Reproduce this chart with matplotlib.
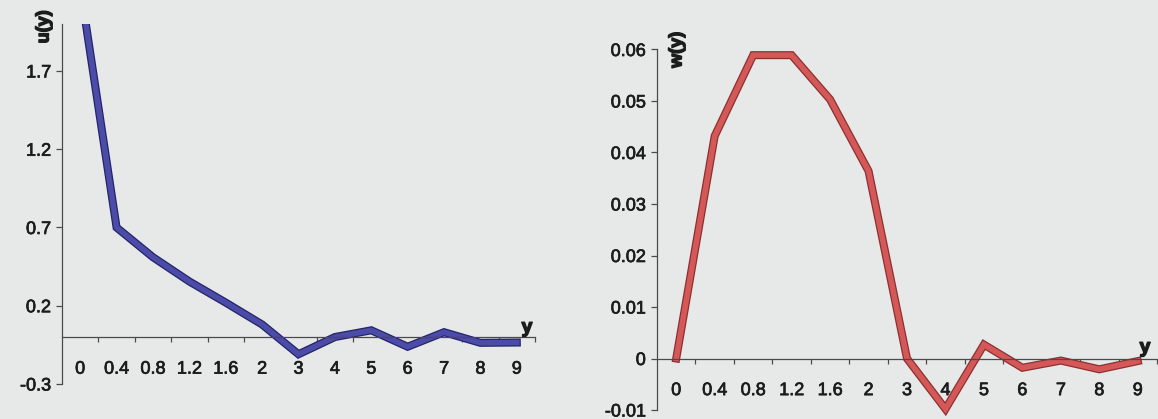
import numpy as np
import matplotlib
matplotlib.use("Agg")
import matplotlib.pyplot as plt
import matplotlib.patheffects as pe

# categories along the y axis (category axis, as in the spreadsheet chart)
categories = ['0', '0.4', '0.8', '1.2', '1.6', '2', '3', '4', '5', '6', '7', '8', '9']

# u(y) values (first point runs off the top)
u_values = [2.24, 0.70, 0.51, 0.355, 0.22, 0.08, -0.11, 0.0, 0.043, -0.062, 0.031, -0.037, -0.035]
u_ticks = [-0.3, 0.2, 0.7, 1.2, 1.7]
u_ticklabels = ['-0.3', '0.2', '0.7', '1.2', '1.7']

# w(y) values
w_values = [0.0, 0.0432, 0.0589, 0.0589, 0.0503, 0.0364, 0.0, -0.0098, 0.0027, -0.0018, -0.0004, -0.0021, -0.0005]
w_ticks = [-0.01, 0.0, 0.01, 0.02, 0.03, 0.04, 0.05, 0.06]
w_ticklabels = ['-0.01', '0', '0.01', '0.02', '0.03', '0.04', '0.05', '0.06']

plt.rcParams['font.family'] = ['Liberation Sans', 'DejaVu Sans']
bg = '#e7e9e9'
txt = '#1c1c1c'
axc = '#4a4a4a'
# scanned print looks a bit heavier than plain Arial
thick = [pe.withStroke(linewidth=0.5, foreground=txt)]
heavy = [pe.withStroke(linewidth=1.0, foreground=txt)]

W, H = 1158, 419
fig = plt.figure(figsize=(W / 100, H / 100), dpi=100, facecolor=bg)


def px_box(x0, x1, ytop, ybot):
    return [x0 / W, 1 - ybot / H, (x1 - x0) / W, (ybot - ytop) / H]


def style_axis(ax, ticks, labels, ylim):
    ax.set_facecolor(bg)
    n = len(categories)
    ax.set_xlim(0, n)
    ax.set_ylim(*ylim)
    for s in ['top', 'right']:
        ax.spines[s].set_visible(False)
    ax.spines['bottom'].set_position(('data', 0))
    for s in ['left', 'bottom']:
        ax.spines[s].set_color(axc)
        ax.spines[s].set_linewidth(0.9)
    # labels at category centres, tick marks on the boundaries
    ax.set_xticks(np.arange(n) + 0.5)
    ax.set_xticklabels(categories)
    ax.set_xticks(np.arange(1, n + 1), minor=True)
    ax.tick_params(axis='x', which='major', length=0, pad=17, labelsize=13, labelcolor=txt)
    ax.tick_params(axis='x', which='minor', length=3.5, width=0.9, direction='out', color=axc)
    ax.set_yticks(ticks)
    ax.set_yticklabels(labels)
    ax.tick_params(axis='y', length=4, width=0.9, direction='out', color=axc,
                   pad=4, labelsize=13, labelcolor=txt)
    for lab in ax.get_xticklabels() + ax.get_yticklabels():
        lab.set_path_effects(thick)


# left chart: u(y)
ax1 = fig.add_axes(px_box(62, 535, 24, 384))
style_axis(ax1, u_ticks, u_ticklabels, (-0.3, 2.0))
x = np.arange(len(categories)) + 0.5
ax1.plot(x, u_values, color='#4b4ba8', lw=4.0, solid_joinstyle='miter',
         path_effects=[pe.Stroke(linewidth=5.8, foreground='#24246a'), pe.Normal()])
fig.text(44 / W, 1 - 27 / H, 'u(y)', rotation=90, ha='center', va='center',
         fontsize=13, fontweight='bold', color=txt, path_effects=heavy)
fig.text(527 / W, 1 - 328 / H, 'y', ha='center', va='center',
         fontsize=14, fontweight='bold', color=txt, path_effects=heavy)

# right chart: w(y)
ax2 = fig.add_axes(px_box(657, 1157, 49.5, 410))
style_axis(ax2, w_ticks, w_ticklabels, (-0.01, 0.06))
ax2.plot(x, w_values, color='#d45858', lw=4.0, solid_joinstyle='miter', clip_on=False,
         path_effects=[pe.Stroke(linewidth=5.8, foreground='#8c2f2f'), pe.Normal()])
fig.text(677 / W, 1 - 50 / H, 'w(y)', rotation=90, ha='center', va='center',
         fontsize=13, fontweight='bold', color=txt, path_effects=heavy)
fig.text(1145 / W, 1 - 348 / H, 'y', ha='center', va='center',
         fontsize=14, fontweight='bold', color=txt, path_effects=heavy)

fig.savefig('out.png', dpi=100, facecolor=bg)
